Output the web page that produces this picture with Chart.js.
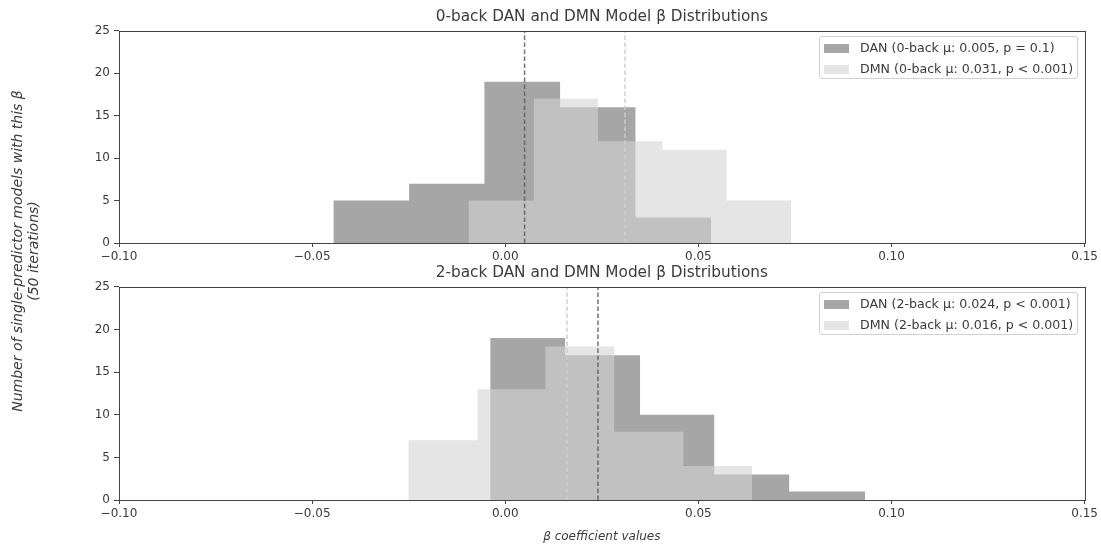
<!DOCTYPE html>
<html>
<head>
<meta charset="utf-8">
<script src="https://cdn.jsdelivr.net/npm/chart.js@4.4.0/dist/chart.umd.min.js"></script>
<style>
  body { margin: 0; background: #fff; font-family: "DejaVu Sans", sans-serif; }
  #page { position: relative; width: 1101px; height: 548px; overflow: hidden; }
  .panel { position: absolute; left: 0; width: 1101px; }
  #ylabel {
    position: absolute; left: 25px; top: 251px; width: 380px;
    transform: translate(-50%, -50%) rotate(-90deg);
    text-align: center; font-style: italic; font-size: 14px; line-height: 16px; color: #3a3a3a;
  }
  .legend {
    position: absolute; left: 819px; width: 257px; height: 41px;
    border: 1px solid #d0d0d0; border-radius: 3px; background: rgba(255,255,255,0.8);
    font-size: 12.6px; color: #3a3a3a;
  }
  .legend .row { position: absolute; left: 4px; height: 14px; line-height: 14px; white-space: nowrap; }
  .legend .swatch { display: inline-block; width: 25px; height: 9px; vertical-align: -1px; margin-right: 11px; }
</style>
</head>
<body>
<div id="page">
  <div class="panel" style="top:0;height:270px"><canvas id="chart0back"></canvas></div>
  <div class="panel" style="top:256px;height:292px"><canvas id="chart2back"></canvas></div>
  <div id="ylabel">Number of single-predictor models with this β<br>(50 iterations)</div>
  <div class="legend" id="legend0back" style="top:36px"></div>
  <div class="legend" id="legend2back" style="top:292px"></div>
</div>
<script>
// Axis ticks
const xTickValues = [-0.10, -0.05, 0.00, 0.05, 0.10, 0.15];
const yTickValues = [0, 5, 10, 15, 20, 25];

// 0-back histograms (bin edges + counts per bin)
const danEdges0 = [-0.0445, -0.0249, -0.0054, 0.0142, 0.0337, 0.0533];
const danCounts0 = [5, 7, 19, 16, 3];
const dmnEdges0 = [-0.0095, 0.0074, 0.0240, 0.0407, 0.0573, 0.0740];
const dmnCounts0 = [5, 17, 12, 11, 5];
const danMean0 = 0.005;
const dmnMean0 = 0.031;

// 2-back histograms
const danEdges2 = [-0.0039, 0.0155, 0.0349, 0.0541, 0.0735, 0.0932];
const danCounts2 = [19, 17, 10, 3, 1];
const dmnEdges2 = [-0.0251, -0.0072, 0.0104, 0.0282, 0.0461, 0.0639];
const dmnCounts2 = [7, 13, 18, 8, 4];
const danMean2 = 0.024;
const dmnMean2 = 0.016;

const panelTitles = ['0-back DAN and DMN Model β Distributions', '2-back DAN and DMN Model β Distributions'];
const legendLabels0 = ['DAN (0-back μ: 0.005, p = 0.1)', 'DMN (0-back μ: 0.031, p < 0.001)'];
const legendLabels2 = ['DAN (2-back μ: 0.024, p < 0.001)', 'DMN (2-back μ: 0.016, p < 0.001)'];
const xAxisTitle = 'β coefficient values';

const DAN_FILL = 'rgba(128, 128, 128, 0.7)';
const DMN_FILL = 'rgba(211, 211, 211, 0.6)';
const DAN_LINE = 'rgba(90, 90, 90, 0.85)';
const DMN_LINE = 'rgba(205, 205, 205, 0.95)';
const AXIS_COLOR = '#444';
const TEXT_COLOR = '#3a3a3a';

// histogram as a stepped, filled line through the bin edges
function histPoints(edges, counts) {
    return edges.map((e, i) => ({ x: e, y: i < counts.length ? counts[i] : 0 }));
}

function meanLine(value) {
    return [{ x: value, y: yTickValues[0] }, { x: value, y: yTickValues[yTickValues.length - 1] }];
}

function fmtTick(v) {
    if (Math.abs(v) < 1e-9) return '0.00';
    return (v < 0 ? '\u2212' : '') + Math.abs(v).toFixed(2);
}

// matplotlib-style box around the axes
const axesFrame = {
    id: 'axesFrame',
    afterDraw(chart) {
        const { ctx, chartArea: a } = chart;
        ctx.save();
        ctx.strokeStyle = AXIS_COLOR;
        ctx.lineWidth = 1;
        const l = Math.round(a.left) + 0.5, t = Math.round(a.top) + 0.5;
        const r = Math.round(a.right) + 0.5, b = Math.round(a.bottom) + 0.5;
        ctx.strokeRect(l, t, r - l, b - t);
        ctx.restore();
    }
};

function makeChart(id, title, danEdges, danCounts, dmnEdges, dmnCounts, danMean, dmnMean, legendLabels, xScaleHeight, showXTitle) {
    const ctx = document.getElementById(id).getContext('2d');
    return new Chart(ctx, {
        type: 'line',
        data: {
            datasets: [
                {
                    label: legendLabels[0], data: histPoints(danEdges, danCounts), order: 2,
                    stepped: true, fill: 'origin', backgroundColor: DAN_FILL,
                    borderColor: 'transparent', borderWidth: 0, pointRadius: 0
                },
                {
                    label: legendLabels[1], data: histPoints(dmnEdges, dmnCounts), order: 1,
                    stepped: true, fill: 'origin', backgroundColor: DMN_FILL,
                    borderColor: 'transparent', borderWidth: 0, pointRadius: 0
                },
                {
                    label: 'DAN mean', data: meanLine(danMean), order: 0, fill: false,
                    borderColor: DAN_LINE, borderWidth: 1.5, borderDash: [4.5, 2.5], pointRadius: 0
                },
                {
                    label: 'DMN mean', data: meanLine(dmnMean), order: 0, fill: false,
                    borderColor: DMN_LINE, borderWidth: 1.5, borderDash: [4.5, 2.5], pointRadius: 0
                }
            ]
        },
        options: {
            responsive: true,
            maintainAspectRatio: false,
            animation: false,
            layout: { padding: { left: 0, right: 16, top: 0, bottom: 0 } },
            plugins: {
                legend: { display: false },
                tooltip: { enabled: false },
                title: {
                    display: true, text: title, fullSize: false, color: TEXT_COLOR,
                    font: { family: 'DejaVu Sans', size: 15.3, weight: 'normal' },
                    padding: { top: 7.8, bottom: 4.8 }
                }
            },
            scales: {
                x: {
                    type: 'linear',
                    min: xTickValues[0], max: xTickValues[xTickValues.length - 1],
                    afterBuildTicks: scale => { scale.ticks = xTickValues.map(v => ({ value: v })); },
                    afterFit: scale => { scale.height = xScaleHeight; },
                    ticks: {
                        color: TEXT_COLOR, padding: 3, maxRotation: 0, autoSkip: false,
                        font: { family: 'DejaVu Sans', size: 12 },
                        callback: v => fmtTick(v)
                    },
                    grid: { drawOnChartArea: false, drawTicks: true, tickLength: 4, color: AXIS_COLOR },
                    border: { display: false },
                    title: {
                        display: showXTitle, text: xAxisTitle, color: TEXT_COLOR,
                        font: { family: 'DejaVu Sans', size: 12, style: 'italic' },
                        padding: { top: 0, bottom: 3.8 }
                    }
                },
                y: {
                    min: yTickValues[0], max: yTickValues[yTickValues.length - 1],
                    afterBuildTicks: scale => { scale.ticks = yTickValues.map(v => ({ value: v })); },
                    afterFit: scale => { scale.width = 119; },
                    ticks: {
                        color: TEXT_COLOR, padding: 4, autoSkip: false,
                        font: { family: 'DejaVu Sans', size: 12 }
                    },
                    grid: { drawOnChartArea: false, drawTicks: true, tickLength: 5, color: AXIS_COLOR },
                    border: { display: false }
                }
            }
        },
        plugins: [axesFrame]
    });
}

function buildLegend(id, chart) {
    const box = document.getElementById(id);
    box.innerHTML = chart.data.datasets.slice(0, 2).map((ds, i) => `
        <div class="row" style="top:${4 + i * 21}px">
            <span class="swatch" style="background:${ds.backgroundColor}"></span>${ds.label.replace('<', '&lt;')}
        </div>
    `).join('');
}

const chart0 = makeChart('chart0back', panelTitles[0], danEdges0, danCounts0, dmnEdges0, dmnCounts0,
    danMean0, dmnMean0, legendLabels0, 27, false);
const chart2 = makeChart('chart2back', panelTitles[1], danEdges2, danCounts2, dmnEdges2, dmnCounts2,
    danMean2, dmnMean2, legendLabels2, 48, true);

buildLegend('legend0back', chart0);
buildLegend('legend2back', chart2);
</script>
</body>
</html>
